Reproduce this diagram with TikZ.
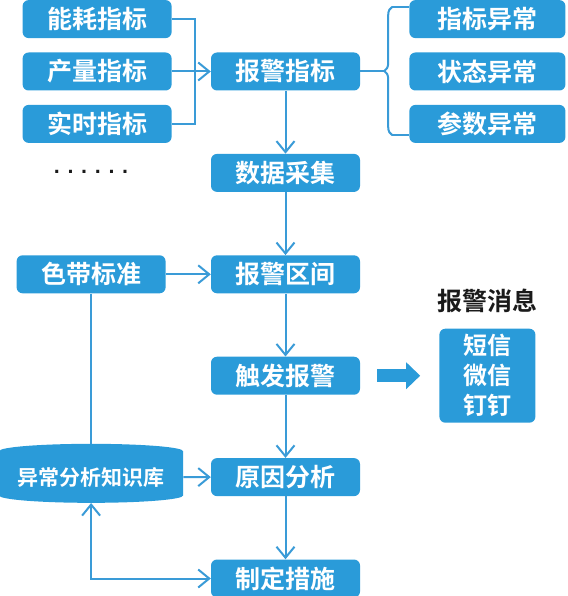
\documentclass[tikz,border=0pt]{standalone}
\usepackage{fontspec}
\setmainfont{Noto Sans CJK SC}[BoldFont={Noto Sans CJK SC Bold}]
\newfontfamily\dotfont{DejaVu Sans}[BoldFont={DejaVu Sans Bold}]
\newcommand\spacedots{.\kern7.2pt.\kern7.2pt.\kern7.2pt.\kern7.2pt.\kern7.2pt.}
\definecolor{skyblue}{RGB}{42, 155, 217}
\definecolor{lineblue}{RGB}{58, 155, 215}
\definecolor{inkdark}{RGB}{26, 26, 26}
\usetikzlibrary{arrows.meta, positioning, shapes.geometric, calc, decorations.pathreplacing}
\tikzset{
	box/.style={rectangle, rounded corners=6pt, fill=skyblue, text=white, align=center, minimum width=149pt, minimum height=38pt, inner sep=0pt, font=\fontsize{25}{30}\selectfont\bfseries},
	widebox/.style={box, minimum width=156pt},
	msgbox/.style={box, minimum width=96pt, minimum height=94pt, font=\fontsize{24}{30}\selectfont\bfseries},
	kbase/.style={cylinder, shape border rotate=90, aspect=0.1, fill=skyblue, text=white, minimum width=184pt, minimum height=59pt, inner sep=0pt, font=\fontsize{21}{25}\selectfont\bfseries},
	headline/.style={text=inkdark, inner sep=0pt, font=\fontsize{25}{30}\selectfont\bfseries},
	etc/.style={text=inkdark, inner sep=0pt, font=\dotfont\fontsize{17}{20}\selectfont\bfseries},
	link/.style={line width=2pt, draw=lineblue},
	arrow/.style={link, -{Straight Barb[length=11pt, width=18pt]}},
	twoarrow/.style={link, {Straight Barb[length=11pt, width=18pt]}-{Straight Barb[length=11pt, width=18pt]}},
	fatarrow/.style={line width=13pt, draw=skyblue, -{Triangle[length=14pt, width=26pt]}, shorten <=17pt, shorten >=19pt},
}
\begin{document}
\begin{tikzpicture}[x=1pt, y=-1pt, node distance=63pt and 39pt]
	\useasboundingbox (0,0) rectangle (567,596);
	% main column
	\node[box] (warn) at (285.5,71.5) {报警指标};
	\node[box, below=of warn] (collect) {数据采集};
	\node[box, below=of collect] (range) {报警区间};
	\node[box, below=of range] (trig) {触发报警};
	\node[box, below=of trig] (reason) {原因分析};
	\node[box, below=of reason] (measure) {制定措施};
	% index boxes
	\node[box, left=of warn] (output) {产量指标};
	\node[box, above=14pt of output] (energy) {能耗指标};
	\node[box, below=14pt of output] (realtime) {实时指标};
	\node[etc] (more) at (91,172) {\spacedots};
	% abnormal types
	\node[widebox, right=49pt of warn] (state) {状态异常};
	\node[widebox, above=14pt of state] (index) {指标异常};
	\node[widebox, below=14pt of state] (param) {参数异常};
	% left side
	\node[box, left=45pt of range] (band) {色带标准};
	\node[kbase] (kb) at (band |- reason) {异常分析知识库};
	% message
	\node[msgbox, right=79pt of trig] (msg) {短信\\微信\\钉钉};
	\node[headline, above=15pt of msg] (msgtitle) {报警消息};

	\coordinate (join) at ($(output.east)+(23,0)$);
	\draw[link] (energy.east) -| (join) |- (realtime.east);
	\draw[arrow] (output) -- (warn);
	\coordinate (brt) at ($(index.north west)+(-17,7)$);
	\coordinate (brb) at ($(param.south west)+(-17,-8)$);
	\coordinate (brm) at ($(brt)!0.5!(brb)+(-8,0)$);
	\draw[link, decorate, decoration={brace, amplitude=8pt}] (brb) -- (brt);
	\draw[link] (brt) -- (brt -| index.west);
	\draw[link] (brb) -- (brb -| param.west);
	\draw[link] (warn.east) -- (warn.east -| brm);
	\draw[arrow] (warn) -- (collect);
	\draw[arrow] (collect) -- (range);
	\draw[arrow] (range) -- (trig);
	\draw[arrow] (trig) -- (reason);
	\draw[arrow] (reason) -- (measure);
	\draw[arrow] (band) -- (range);
	\draw[link] (band) -- (kb);
	\draw[arrow] (kb) -- (reason);
	\draw[twoarrow] (measure.west) -| (kb);
	\draw[fatarrow] (trig) -- (msg);
\end{tikzpicture}
\end{document}
